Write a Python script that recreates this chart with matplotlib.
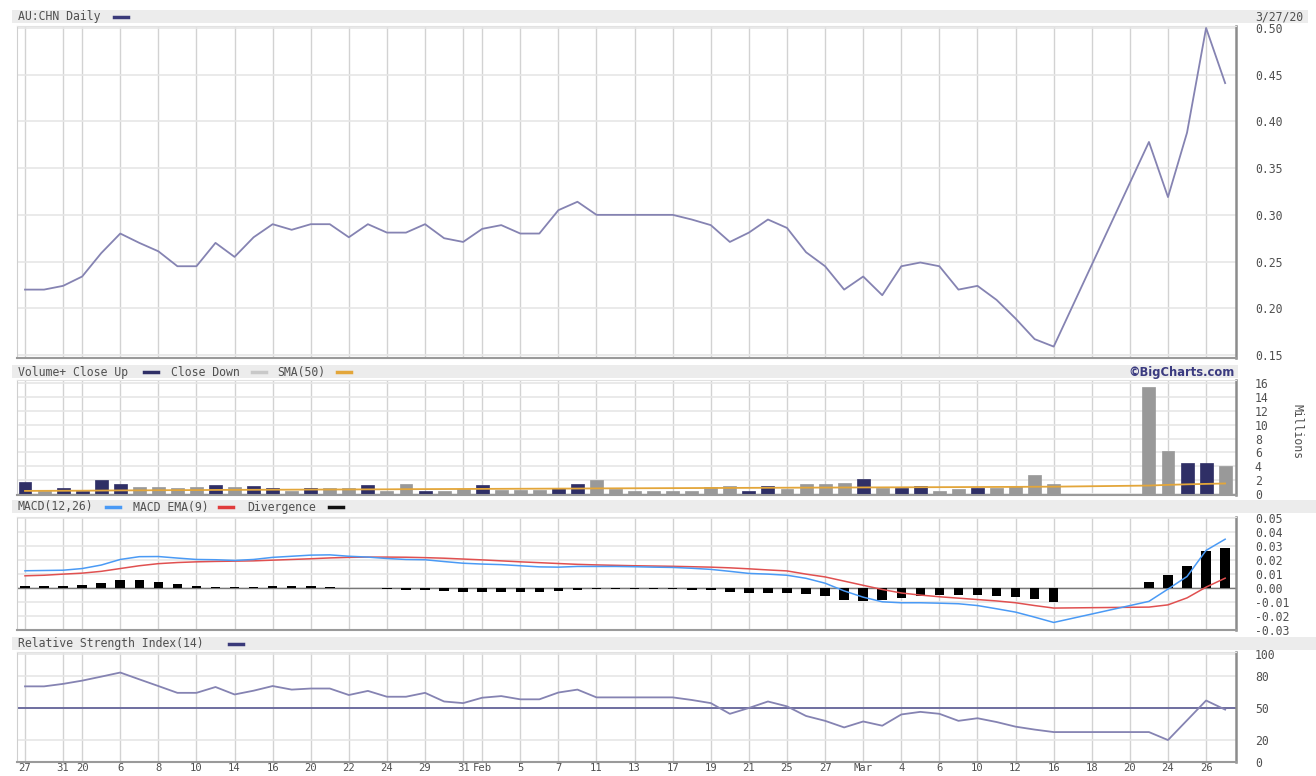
import matplotlib
matplotlib.use("Agg")
import matplotlib.pyplot as plt
from matplotlib.lines import Line2D
from matplotlib.patches import Rectangle

# trading-day slots (Mar 17-20 have no data, the x axis still keeps their slots)
day_idx = list(range(55)) + [59, 60, 61, 62, 63]

tick_idx = [0, 2, 3, 5, 7, 9, 11, 13, 15, 17, 19, 21, 23, 24, 26, 28, 30, 32, 34, 36,
            38, 40, 42, 44, 46, 48, 50, 52, 54, 56, 58, 60, 62]
tick_lbl = ["27", "31", "20", "6", "8", "10", "14", "16", "20", "22", "24", "29", "31", "Feb",
            "5", "7", "11", "13", "17", "19", "21", "25", "27", "Mar", "4", "6", "10", "12",
            "16", "18", "20", "24", "26"]

close = [0.220, 0.220, 0.224, 0.234, 0.259, 0.280, 0.270, 0.261, 0.245, 0.245,
         0.270, 0.255, 0.276, 0.290, 0.284, 0.290, 0.290, 0.276, 0.290, 0.281,
         0.281, 0.290, 0.275, 0.271, 0.285, 0.289, 0.280, 0.280, 0.305, 0.314,
         0.300, 0.300, 0.300, 0.300, 0.300, 0.295, 0.289, 0.271, 0.281, 0.295,
         0.286, 0.260, 0.245, 0.220, 0.234, 0.214, 0.245, 0.249, 0.245, 0.220,
         0.224, 0.209, 0.189, 0.167, 0.159,
         0.378, 0.319, 0.388, 0.500, 0.441]

volume = [1.7, 0.4, 0.9, 0.5, 2.0, 1.4, 1.0, 1.0, 0.9, 1.0,
          1.3, 1.0, 1.1, 0.9, 0.4, 0.9, 0.8, 0.8, 1.3, 0.5,
          1.5, 0.5, 0.5, 0.7, 1.3, 0.6, 0.6, 0.6, 0.9, 1.5,
          2.0, 0.7, 0.5, 0.5, 0.5, 0.5, 1.0, 1.2, 0.4, 1.2,
          0.7, 1.4, 1.4, 1.6, 2.2, 0.8, 0.9, 1.2, 0.4, 0.7,
          0.8, 0.8, 1.15, 2.7, 1.4,
          15.4, 6.2, 4.4, 4.4, 4.1]
# 1 = close up, 0 = close down
vol_up = [1, 0, 1, 1, 1, 1, 0, 0, 0, 0,
          1, 0, 1, 1, 0, 1, 0, 0, 1, 0,
          0, 1, 0, 0, 1, 0, 0, 0, 1, 1,
          0, 0, 0, 0, 0, 0, 0, 0, 1, 1,
          0, 0, 0, 0, 1, 0, 1, 1, 0, 0,
          1, 0, 0, 0, 0,
          0, 0, 1, 1, 0]
sma50 = [0.45, 0.46, 0.47, 0.48, 0.50, 0.52, 0.53, 0.55, 0.56, 0.57,
         0.59, 0.60, 0.61, 0.62, 0.63, 0.64, 0.65, 0.66, 0.67, 0.68,
         0.70, 0.71, 0.72, 0.73, 0.74, 0.75, 0.76, 0.77, 0.78, 0.79,
         0.81, 0.82, 0.83, 0.84, 0.85, 0.86, 0.87, 0.88, 0.89, 0.90,
         0.91, 0.92, 0.93, 0.94, 0.95, 0.96, 0.97, 0.98, 0.99, 1.00,
         1.01, 1.02, 1.03, 1.05, 1.06,
         1.22, 1.32, 1.40, 1.46, 1.52]

macd = [0.0124, 0.0126, 0.0128, 0.0140, 0.0165, 0.0205, 0.0225, 0.0226, 0.0215, 0.0205,
        0.0203, 0.0198, 0.0205, 0.0220, 0.0228, 0.0236, 0.0238, 0.0228, 0.0222, 0.0212,
        0.0205, 0.0203, 0.0190, 0.0178, 0.0172, 0.0168, 0.0160, 0.0152, 0.0150, 0.0155,
        0.0155, 0.0155, 0.0153, 0.0150, 0.0148, 0.0142, 0.0134, 0.0120, 0.0105, 0.0100,
        0.0092, 0.0070, 0.0035, -0.0020, -0.0065, -0.0098, -0.0105, -0.0105, -0.0108, -0.0112,
        -0.0125, -0.0148, -0.0172, -0.0208, -0.0246,
        -0.0095, -0.0007, 0.0083, 0.0270, 0.0350]
macd_ema = [0.0088, 0.0092, 0.0100, 0.0107, 0.0120, 0.0140, 0.0160, 0.0175, 0.0183, 0.0188,
            0.0191, 0.0193, 0.0195, 0.0200, 0.0205, 0.0210, 0.0216, 0.0220, 0.0222, 0.0222,
            0.0221, 0.0218, 0.0214, 0.0208, 0.0202, 0.0195, 0.0188, 0.0182, 0.0176, 0.0170,
            0.0166, 0.0163, 0.0160, 0.0158, 0.0156, 0.0153, 0.0150, 0.0145, 0.0138, 0.0130,
            0.0123, 0.0100, 0.0080, 0.0050, 0.0020, -0.0010, -0.0035, -0.0050, -0.0062, -0.0072,
            -0.0082, -0.0092, -0.0105, -0.0125, -0.0143,
            -0.0136, -0.0120, -0.0070, 0.0007, 0.0071]
divergence = [0.0012, 0.0012, 0.0012, 0.0025, 0.0040, 0.0058, 0.0058, 0.0046, 0.0027, 0.0012,
              0.0010, 0.0006, 0.0006, 0.0012, 0.0012, 0.0014, 0.0010, 0.0004, 0.0001, -0.0004,
              -0.0012, -0.0012, -0.0022, -0.0028, -0.0030, -0.0028, -0.0028, -0.0030, -0.0022, -0.0012,
              -0.0008, -0.0008, -0.0010, -0.0010, -0.0010, -0.0012, -0.0016, -0.0025, -0.0032, -0.0032,
              -0.0033, -0.0040, -0.0055, -0.0085, -0.0090, -0.0088, -0.0070, -0.0058, -0.0050, -0.0048,
              -0.0048, -0.0058, -0.0064, -0.0080, -0.0098,
              0.0043, 0.0095, 0.0160, 0.0269, 0.0286]

rsi = [70, 70, 72.3, 75.3, 79, 82.8, 76.5, 70.3, 64, 64,
       69.4, 62.5, 66, 70.3, 67, 68, 68, 62, 65.8, 60.4,
       60.4, 64, 56, 54.5, 59.5, 61, 58, 58, 64.3, 67,
       59.8, 59.8, 59.8, 59.8, 59.8, 57.4, 54.5, 44.6, 50, 56,
       51.5, 42.6, 38.1, 32, 37.5, 33.6, 44, 46.4, 44.6, 38.1,
       40.5, 37, 32.7, 30, 27.7,
       27.7, 20.3, 38.6, 56.9, 48.5]

price_ticks = [0.15, 0.20, 0.25, 0.30, 0.35, 0.40, 0.45, 0.50]
vol_ticks = [0, 2, 4, 6, 8, 10, 12, 14, 16]
macd_ticks = [-0.03, -0.02, -0.01, 0.0, 0.01, 0.02, 0.03, 0.04, 0.05]
rsi_ticks = [0, 20, 50, 80, 100]

NAVY = "#8583b2"
TXT = "#505050"
MONO = "DejaVu Sans Mono"
FS = 8.3

W, H = 1316, 776
fig = plt.figure(figsize=(W / 100, H / 100), dpi=100)


def fx(px):
    return px / W


def fy(py):
    return 1 - py / H


def panel(top, bottom):
    ax = fig.add_axes([fx(17), fy(bottom), fx(1236) - fx(17), (bottom - top) / H])
    ax.set_xlim(-0.42, 63.57)
    ax.set_xticks(tick_idx)
    ax.grid(True, axis="x", color="#d2d2d2", lw=1)
    ax.grid(True, axis="y", color="#e6e6e6", lw=1.2)
    ax.set_axisbelow(True)
    ax.yaxis.tick_right()
    ax.tick_params(length=0, pad=13.5, labelsize=FS, labelcolor=TXT, labelbottom=False)
    ax.spines["left"].set_color("#cfcfcf")
    ax.spines["top"].set_color("#e2e2e2")
    ax.spines["right"].set_color("#8c8c8c")
    ax.spines["right"].set_linewidth(1.8)
    ax.spines["bottom"].set_color("#9a9a9a")
    ax.spines["bottom"].set_linewidth(1.5)
    return ax


def band(x0, x1, y0, y1):
    fig.add_artist(Rectangle((fx(x0), fy(y1)), fx(x1) - fx(x0), (y1 - y0) / H,
                             transform=fig.transFigure, color="#ececec", lw=0, zorder=0))


def legend_item(x, y, label, x_dash, color):
    fig.text(fx(x), fy(y), label, fontsize=FS, family=MONO, color=TXT, va="center")
    fig.add_artist(Line2D([fx(x_dash), fx(x_dash + 14)], [fy(y), fy(y)],
                          transform=fig.transFigure, color=color, lw=2.5))


def ticks_fmt(ax, ticks, labels):
    ax.set_yticks(ticks)
    ax.set_yticklabels(labels, fontfamily=MONO)


# title bands
band(12, 1308, 10, 23)
band(12, 1238, 365, 378)
band(12, 1316, 500, 513)
band(12, 1316, 637, 650)

legend_item(18, 16.5, "AU:CHN Daily", 114, "#3a3a7a")
fig.text(fx(1303), fy(16.5), "3/27/20", fontsize=FS, family=MONO, color=TXT, va="center", ha="right")

legend_item(18, 372, "Volume+ Close Up", 144, "#2f2f66")
legend_item(171, 372, "Close Down", 252, "#c8c8c8")
legend_item(277, 372, "SMA(50)", 337, "#e3a63a")
fig.text(fx(1235), fy(372), "\u00a9BigCharts.com", fontsize=8.3, weight="bold",
         color="#3b3b80", va="center", ha="right")

legend_item(18, 507, "MACD(12,26)", 106, "#4a9af5")
legend_item(133, 507, "MACD EMA(9)", 219, "#e03c3c")
legend_item(247, 507, "Divergence", 329, "#111111")

legend_item(18, 644, "Relative Strength Index(14)", 229, "#3a3a7a")

# price
ax1 = panel(26, 358)
ax1.plot(day_idx, close, color=NAVY, lw=1.3)
ax1.set_ylim(0.1468, 0.5021)
ticks_fmt(ax1, price_ticks, ["%.2f" % t for t in price_ticks])

# volume
ax2 = panel(380, 495)
bar_col = ["#2f2f66" if u else "#999999" for u in vol_up]
ax2.bar(day_idx, volume, width=0.68, color=bar_col, edgecolor=bar_col, lw=0.5)
ax2.plot(day_idx, sma50, color="#e3a63a", lw=1.3)
ax2.set_ylim(-0.14, 16.43)
ticks_fmt(ax2, vol_ticks, [str(t) for t in vol_ticks])
fig.text(fx(1297), fy(432), "Millions", fontsize=FS, family=MONO, color=TXT,
         rotation=270, ha="center", va="center")

# macd
ax3 = panel(517, 630)
ax3.axhline(0, color="#777777", lw=1, zorder=1)
ax3.bar(day_idx, divergence, width=0.5, color="#000000", zorder=2)
ax3.plot(day_idx, macd_ema, color="#e05050", lw=1.1, zorder=3)
ax3.plot(day_idx, macd, color="#4a9af5", lw=1.1, zorder=4)
ax3.set_ylim(-0.0298, 0.0509)
ticks_fmt(ax3, macd_ticks, ["%.2f" % t if t != 0 else "0.00" for t in macd_ticks])

# rsi
ax4 = panel(652, 762)
ax4.axhline(50, color="#4d4d8c", lw=1.1, zorder=1)
ax4.plot(day_idx, rsi, color=NAVY, lw=1.3, zorder=2)
ax4.set_ylim(0, 101.8)
ticks_fmt(ax4, rsi_ticks, [str(t) for t in rsi_ticks])
ax4.tick_params(axis="x", labelbottom=True, pad=0.5, labelsize=7.6)
ax4.set_xticklabels(tick_lbl, fontfamily=MONO)

fig.savefig("out.png", dpi=100, facecolor="white")
